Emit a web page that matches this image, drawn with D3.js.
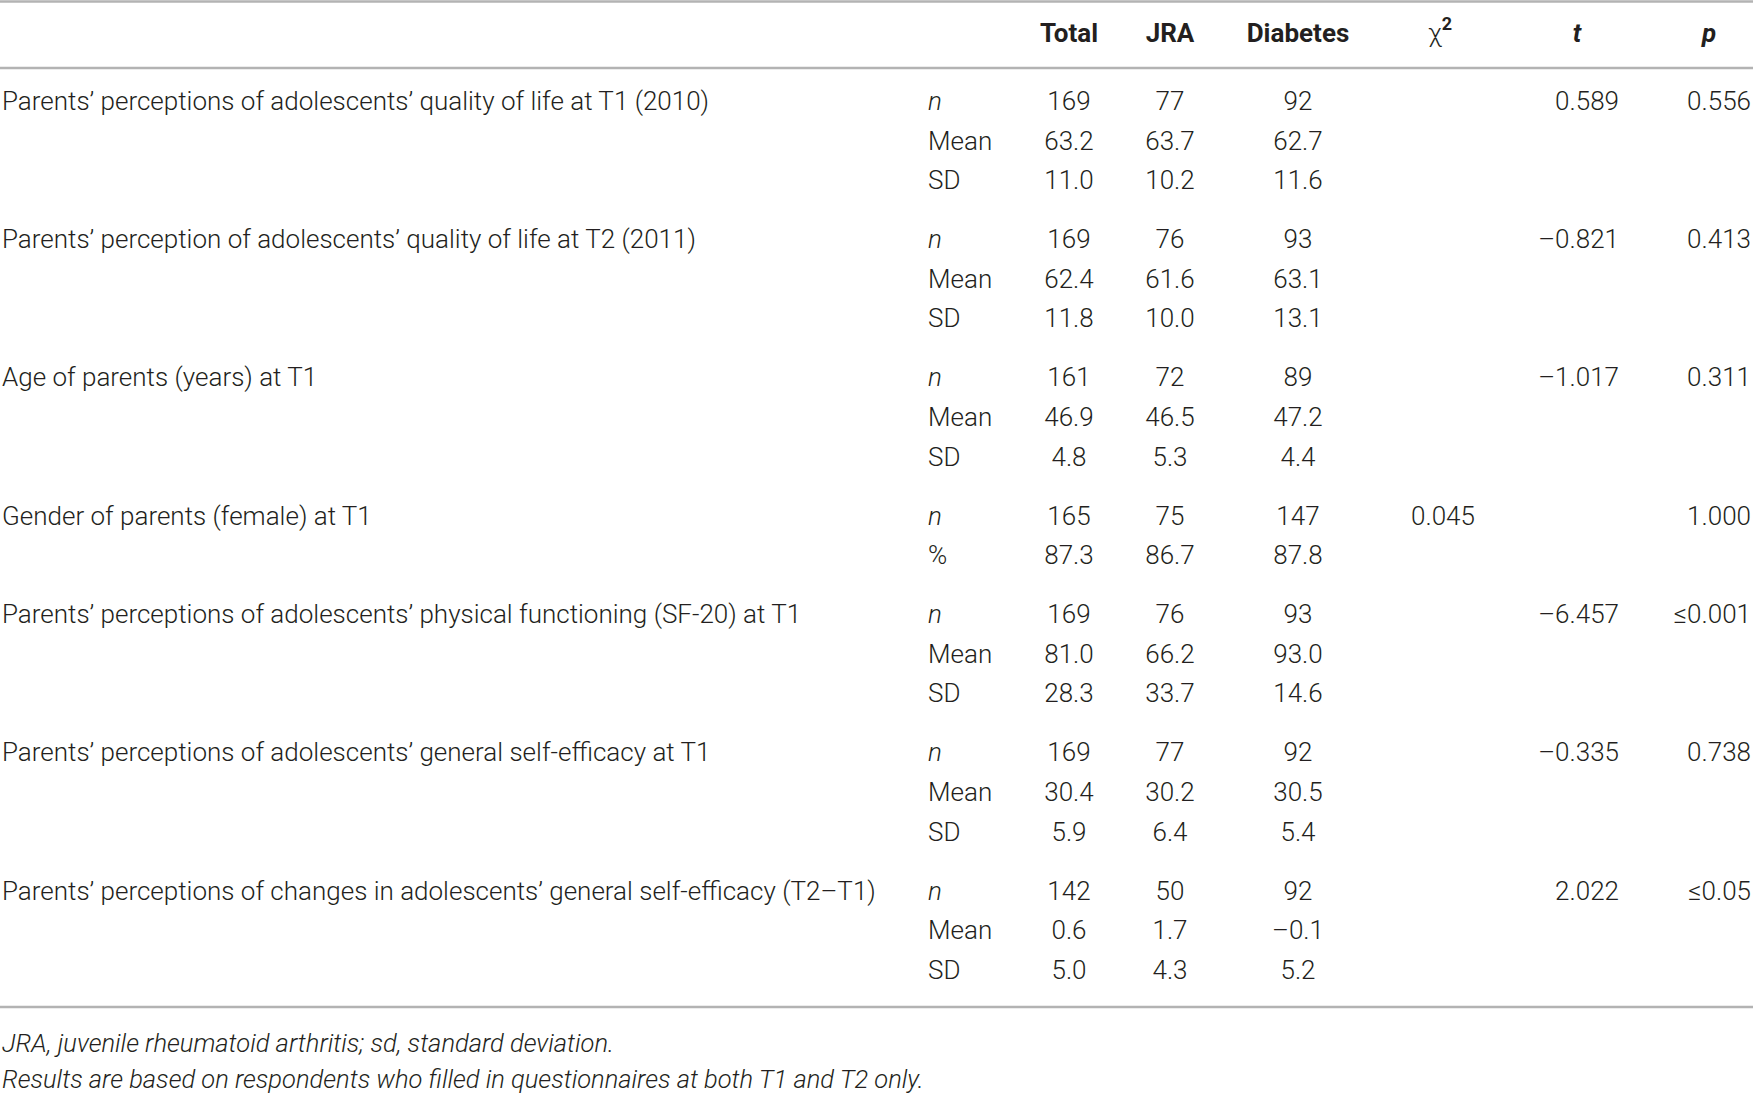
<!DOCTYPE html>
<html>
<head>
<meta charset="utf-8">
<script src="https://cdn.jsdelivr.net/npm/d3@7"></script>
<style>
  html, body { margin: 0; padding: 0; background: #fff; }
  svg { display: block; }
  text { font-family: Roboto, "Liberation Sans", sans-serif; fill: #231f20; }
</style>
</head>
<body>
<svg id="chart" width="1753" height="1093"></svg>
<script>
const columns = ["Total", "JRA", "Diabetes"];
const groupLabels = [
  "Parents\u2019 perceptions of adolescents\u2019 quality of life at T1 (2010)",
  "Parents\u2019 perception of adolescents\u2019 quality of life at T2 (2011)",
  "Age of parents (years) at T1",
  "Gender of parents (female) at T1",
  "Parents\u2019 perceptions of adolescents\u2019 physical functioning (SF-20) at T1",
  "Parents\u2019 perceptions of adolescents\u2019 general self-efficacy at T1",
  "Parents\u2019 perceptions of changes in adolescents\u2019 general self-efficacy (T2\u2013T1)"
];
const statLabels = [
  ["n", "Mean", "SD"],
  ["n", "Mean", "SD"],
  ["n", "Mean", "SD"],
  ["n", "%"],
  ["n", "Mean", "SD"],
  ["n", "Mean", "SD"],
  ["n", "Mean", "SD"]
];
const totalValues = [
  ["169", "63.2", "11.0"],
  ["169", "62.4", "11.8"],
  ["161", "46.9", "4.8"],
  ["165", "87.3"],
  ["169", "81.0", "28.3"],
  ["169", "30.4", "5.9"],
  ["142", "0.6", "5.0"]
];
const jraValues = [
  ["77", "63.7", "10.2"],
  ["76", "61.6", "10.0"],
  ["72", "46.5", "5.3"],
  ["75", "86.7"],
  ["76", "66.2", "33.7"],
  ["77", "30.2", "6.4"],
  ["50", "1.7", "4.3"]
];
const diabetesValues = [
  ["92", "62.7", "11.6"],
  ["93", "63.1", "13.1"],
  ["89", "47.2", "4.4"],
  ["147", "87.8"],
  ["93", "93.0", "14.6"],
  ["92", "30.5", "5.4"],
  ["92", "\u20130.1", "5.2"]
];
const chiValues = ["", "", "", "0.045", "", "", ""];
const tValues = ["0.589", "\u20130.821", "\u20131.017", "", "\u20136.457", "\u20130.335", "2.022"];
const pValues = ["0.556", "0.413", "0.311", "1.000", "\u22640.001", "0.738", "\u22640.05"];
const footnotes = [
  "JRA, juvenile rheumatoid arthritis; sd, standard deviation.",
  "Results are based on respondents who filled in questionnaires at both T1 and T2 only."
];

const svg = d3.select("#chart");
const FS = 26;

// Column positions
const colX = d3.scaleOrdinal()
  .domain(["label", "stat", "Total", "JRA", "Diabetes", "chi", "t", "p"])
  .range([2, 928, 1069, 1170, 1298, 1443, 1619, 1751]);
const headerX = d3.scaleOrdinal().domain(["chi", "t", "p"]).range([1440, 1577, 1709]);

// Vertical layout in row units
const rowStep = 39.6, groupGap = 59 - 39.6;
let rows = [];
let pos = 0;
groupLabels.forEach((g, gi) => {
  statLabels[gi].forEach((s, si) => {
    rows.push({ gi, si, unit: pos });
    pos += 1;
  });
  pos += groupGap / rowStep;
});
const y = d3.scaleLinear().domain([0, 1]).range([110, 110 + rowStep]);

// Rules
const lineColor = "#b3b3b3";
[1.5, 68, 1007].forEach(ly => {
  svg.append("line").attr("x1", 0).attr("x2", 1753).attr("y1", ly).attr("y2", ly)
    .attr("stroke", lineColor).attr("stroke-width", 2.5);
});

// Header
const headerY = 42;
columns.forEach(c => {
  svg.append("text").attr("x", colX(c)).attr("y", headerY).attr("text-anchor", "middle")
    .attr("font-size", FS).attr("font-weight", 700).text(c);
});
const chi = svg.append("text").attr("x", headerX("chi")).attr("y", headerY).attr("text-anchor", "middle")
  .attr("font-size", FS).attr("font-weight", 300);
chi.append("tspan").text("\u03c7");
chi.append("tspan").attr("font-size", 18).attr("font-weight", 700).attr("dy", -12).text("2");
svg.append("text").attr("x", headerX("t")).attr("y", headerY).attr("text-anchor", "middle")
  .attr("font-size", FS).attr("font-weight", 700).attr("font-style", "italic").text("t");
svg.append("text").attr("x", headerX("p")).attr("y", headerY).attr("text-anchor", "middle")
  .attr("font-size", FS).attr("font-weight", 700).attr("font-style", "italic").text("p");

// Body
const body = svg.append("g").attr("font-size", FS).attr("font-weight", 300);
rows.forEach(r => {
  const yy = y(r.unit);
  if (r.si === 0) {
    body.append("text").attr("x", colX("label")).attr("y", yy).text(groupLabels[r.gi]);
    if (chiValues[r.gi]) body.append("text").attr("x", colX("chi")).attr("y", yy)
      .attr("text-anchor", "middle").text(chiValues[r.gi]);
    if (tValues[r.gi]) body.append("text").attr("x", colX("t")).attr("y", yy)
      .attr("text-anchor", "end").text(tValues[r.gi]);
    if (pValues[r.gi]) body.append("text").attr("x", colX("p")).attr("y", yy)
      .attr("text-anchor", "end").text(pValues[r.gi]);
  }
  const st = statLabels[r.gi][r.si];
  body.append("text").attr("x", colX("stat")).attr("y", yy)
    .attr("font-style", st === "n" ? "italic" : null).text(st);
  body.append("text").attr("x", colX("Total")).attr("y", yy).attr("text-anchor", "middle").text(totalValues[r.gi][r.si]);
  body.append("text").attr("x", colX("JRA")).attr("y", yy).attr("text-anchor", "middle").text(jraValues[r.gi][r.si]);
  body.append("text").attr("x", colX("Diabetes")).attr("y", yy).attr("text-anchor", "middle").text(diabetesValues[r.gi][r.si]);
});

// Footnotes
footnotes.forEach((f, i) => {
  svg.append("text").attr("x", 2).attr("y", 1052 + i * 36).attr("font-size", 25.5)
    .attr("font-weight", 300).attr("font-style", "italic").text(f);
});
</script>
</body>
</html>
